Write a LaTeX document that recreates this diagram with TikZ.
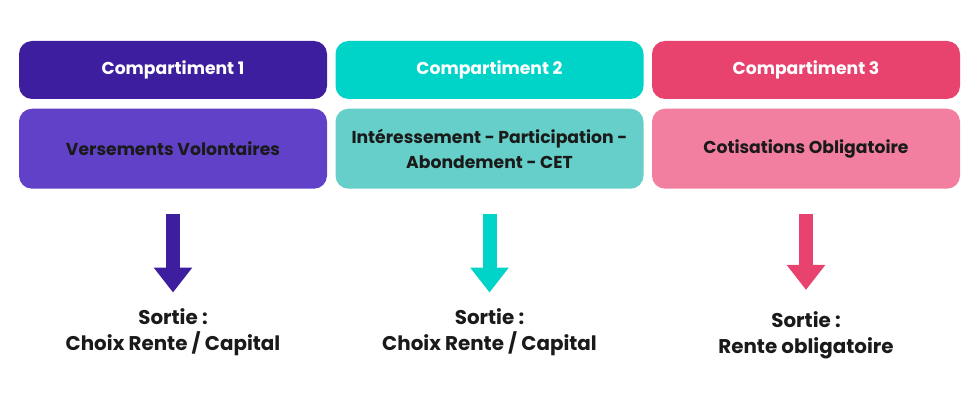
\documentclass[tikz,border=0pt]{standalone}
\usepackage{fontspec}
\setmainfont{Poppins}
\usetikzlibrary{arrows.meta,positioning}
\definecolor{purpleH}{HTML}{3D1E9E}
\definecolor{purpleB}{HTML}{6141C8}
\definecolor{tealH}{HTML}{00D3C8}
\definecolor{tealB}{HTML}{66CFC9}
\definecolor{pinkH}{HTML}{E8436E}
\definecolor{pinkB}{HTML}{F27FA0}
\definecolor{ink}{HTML}{1A1A1A}
\tikzset{
    head/.style={rounded corners=0.26cm,minimum width=6.16cm,minimum height=1.16cm,
        text=white,font=\bfseries\fontsize{9.8}{11}\selectfont,inner sep=0pt},
    body/.style={rounded corners=0.26cm,minimum width=6.16cm,minimum height=1.6cm,
        text=ink,align=center,font=\bfseries\fontsize{9.8}{14}\selectfont,inner sep=0pt},
    exit/.style={text=ink,align=center,font=\bfseries\fontsize{11.3}{15}\selectfont},
    arr/.style={line width=0.28cm,-{Triangle[length=0.5cm,width=0.74cm]}}
}
\begin{document}
\begin{tikzpicture}
    \useasboundingbox (0,0) rectangle (19.6,-8);
    % compartiments
    \node[head,fill=purpleH] (h1) at (3.46,-1.4) {Compartiment 1};
    \node[head,fill=tealH] (h2) at (9.79,-1.4) {Compartiment 2};
    \node[head,fill=pinkH] (h3) at (16.12,-1.4) {Compartiment 3};
    \node[body,fill=purpleB,below=0.18cm of h1] (b1) {Versements Volontaires};
    \node[body,fill=tealB,below=0.18cm of h2] (b2) {Intéressement - Participation -\\Abondement - CET};
    \node[body,fill=pinkB,below=0.18cm of h3] (b3) {Cotisations Obligatoire};
    % sorties
    \node[exit] (s1) at (3.46,-6.65) {Sortie :\\Choix Rente / Capital};
    \node[exit] (s2) at (9.79,-6.65) {Sortie :\\Choix Rente / Capital};
    \node[exit] (s3) at (16.12,-6.7) {Sortie :\\Rente obligatoire};
    \draw[arr,purpleH] ([yshift=-0.5cm]b1.south) -- ([yshift=0.2cm]s1.north);
    \draw[arr,tealH] ([yshift=-0.5cm]b2.south) -- ([yshift=0.2cm]s2.north);
    \draw[arr,pinkH] ([yshift=-0.5cm]b3.south) -- ([yshift=0.3cm]s3.north);
\end{tikzpicture}
\end{document}
